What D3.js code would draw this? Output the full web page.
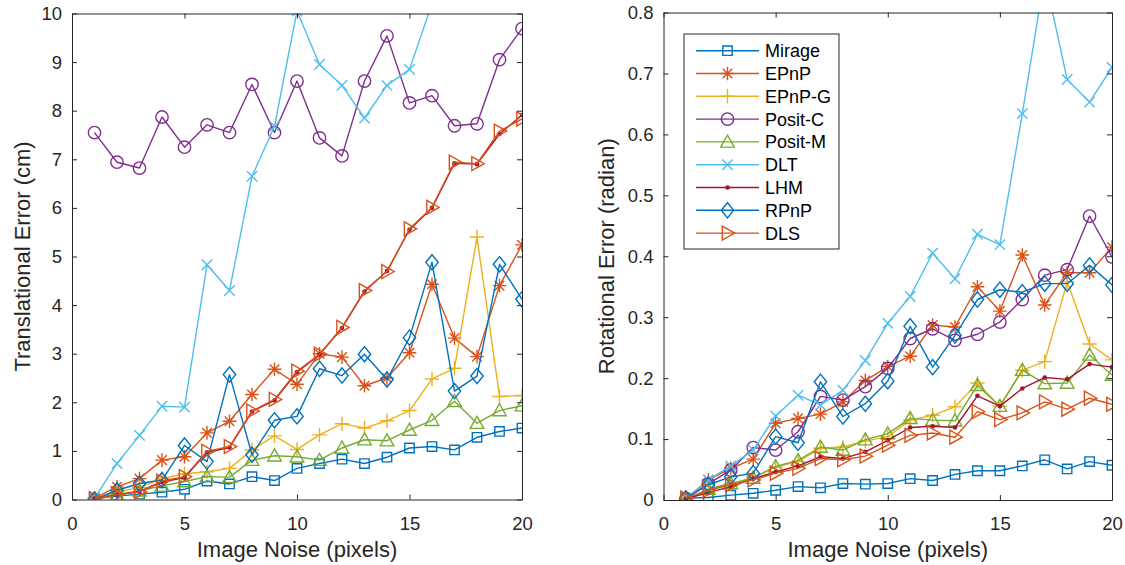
<!DOCTYPE html>
<html>
<head>
<meta charset="utf-8">
<script src="https://cdn.jsdelivr.net/npm/d3@7"></script>
<style>
  html, body { margin: 0; padding: 0; background: #fff; }
  svg { display: block; font-family: "Liberation Sans", Arial, Helvetica, sans-serif; }
</style>
</head>
<body>
<svg id="chart" width="1125" height="565"></svg>
<script>
// ---------------- DATA ----------------
const noise = [1,2,3,4,5,6,7,8,9,10,11,12,13,14,15,16,17,18,19,20];
const methods = ["Mirage","EPnP","EPnP-G","Posit-C","Posit-M","DLT","LHM","RPnP","DLS"];

// Translational error (cm)
const mirageT = [0.02,0.07,0.11,0.15,0.21,0.38,0.32,0.47,0.39,0.64,0.74,0.83,0.74,0.87,1.06,1.09,1.02,1.28,1.40,1.47];
const epnpT   = [0.03,0.26,0.43,0.81,0.88,1.37,1.61,2.16,2.68,2.37,3.00,2.93,2.34,2.50,3.02,4.43,3.32,2.94,4.40,5.24];
const epnpgT  = [0.02,0.15,0.25,0.43,0.53,0.57,0.64,1.02,1.31,1.03,1.33,1.56,1.47,1.62,1.83,2.48,2.70,5.40,2.12,2.14];
const positCT = [7.55,6.94,6.82,7.87,7.25,7.71,7.55,8.54,7.55,8.61,7.44,7.07,8.61,9.54,8.16,8.31,7.69,7.73,9.05,9.69];
const positMT = [0.00,0.10,0.18,0.28,0.37,0.47,0.46,0.81,0.90,0.88,0.81,1.06,1.23,1.21,1.43,1.63,2.02,1.57,1.83,1.93];
const dltT    = [0.03,0.74,1.32,1.92,1.90,4.83,4.30,6.65,7.68,10.05,8.95,8.52,7.85,8.52,8.85,10.2,11.5,12.0,11.8,12.5];
const lhmT    = [0.02,0.10,0.16,0.36,0.45,0.97,1.07,1.81,2.04,2.62,2.98,3.53,4.28,4.70,5.55,6.00,6.92,6.90,7.52,7.91];
const rpnpT   = [0.00,0.19,0.33,0.40,1.11,0.78,2.57,0.92,1.63,1.71,2.69,2.55,2.99,2.47,3.33,4.88,2.23,2.54,4.84,4.12];
const dlsT    = [0.02,0.10,0.16,0.38,0.47,0.99,1.09,1.82,2.06,2.64,2.99,3.54,4.30,4.69,5.57,6.01,6.94,6.91,7.58,7.83];

// Rotational error (radian)
const mirageR = [0.003,0.004,0.008,0.011,0.016,0.022,0.020,0.027,0.026,0.027,0.035,0.032,0.042,0.048,0.048,0.056,0.066,0.051,0.063,0.057];
const epnpR   = [0.002,0.033,0.052,0.067,0.126,0.134,0.141,0.161,0.196,0.219,0.236,0.287,0.284,0.350,0.310,0.402,0.320,0.373,0.373,0.415];
const epnpgR  = [0.001,0.017,0.026,0.037,0.054,0.063,0.085,0.087,0.097,0.104,0.131,0.139,0.153,0.192,0.154,0.213,0.227,0.358,0.256,0.230];
const positCR = [0.002,0.027,0.049,0.086,0.082,0.112,0.170,0.164,0.186,0.216,0.265,0.281,0.262,0.272,0.292,0.329,0.369,0.378,0.466,0.399];
const positMR = [0.000,0.018,0.027,0.036,0.055,0.065,0.087,0.082,0.099,0.109,0.134,0.131,0.130,0.188,0.154,0.213,0.191,0.192,0.238,0.205];
const dltR    = [0.002,0.033,0.056,0.082,0.138,0.172,0.156,0.180,0.229,0.290,0.334,0.405,0.363,0.436,0.419,0.634,0.860,0.690,0.653,0.710];
const lhmR    = [0.002,0.012,0.022,0.035,0.046,0.056,0.071,0.068,0.079,0.098,0.119,0.121,0.119,0.171,0.154,0.183,0.201,0.198,0.223,0.218];
const rpnpR   = [0.003,0.025,0.038,0.044,0.104,0.094,0.194,0.137,0.158,0.195,0.285,0.218,0.270,0.329,0.345,0.341,0.355,0.355,0.385,0.353];
const dlsR    = [0.003,0.016,0.025,0.033,0.044,0.052,0.068,0.066,0.072,0.090,0.106,0.110,0.103,0.145,0.132,0.143,0.161,0.149,0.167,0.157];

const xTicks = [0,5,10,15,20];
const transTicks = [0,1,2,3,4,5,6,7,8,9,10];
const rotTicks = [0,0.1,0.2,0.3,0.4,0.5,0.6,0.7,0.8];
const rotTickLabels = ["0","0.1","0.2","0.3","0.4","0.5","0.6","0.7","0.8"];

const transSeries = [mirageT, epnpT, epnpgT, positCT, positMT, dltT, lhmT, rpnpT, dlsT];
const rotSeries   = [mirageR, epnpR, epnpgR, positCR, positMR, dltR, lhmR, rpnpR, dlsR];

// ---------------- STYLE ----------------
const colors = ["#0072BD","#D95319","#EDB120","#7E2F8E","#77AC30","#4DBEEE","#A2142F","#0072BD","#D95319"];
const markers = ["square","asterisk","plus","circle","triangleUp","cross","point","diamond","triangleRight"];
const axisColor = "#262626";
const lw = 1.4;

const svg = d3.select("#chart");

function markerPath(type) {
  switch (type) {
    case "square": return "M-4.7,-4.7H4.7V4.7H-4.7Z";
    case "asterisk": return "M0,-6.8V6.8M-6.8,0H6.8M-4.8,-4.8L4.8,4.8M-4.8,4.8L4.8,-4.8";
    case "plus": return "M0,-7.2V7.2M-7.2,0H7.2";
    case "circle": return "M6.2,0A6.2,6.2 0 1,1 -6.2,0A6.2,6.2 0 1,1 6.2,0Z";
    case "triangleUp": return "M0,-6.8L6.8,5.2L-6.8,5.2Z";
    case "cross": return "M-5.2,-5.2L5.2,5.2M-5.2,5.2L5.2,-5.2";
    case "diamond": return "M0,-7.6L6.2,0L0,7.6L-6.2,0Z";
    case "triangleRight": return "M-5.2,-7L7.2,0L-5.2,7Z";
    default: return null;
  }
}

function drawMarker(g, type, color, x, y) {
  if (type === "point") {
    g.append("circle").attr("cx", x).attr("cy", y).attr("r", 2.3).attr("fill", color);
    return;
  }
  g.append("path").attr("d", markerPath(type))
    .attr("transform", `translate(${x},${y})`)
    .attr("fill", "none").attr("stroke", color).attr("stroke-width", lw);
}

function panel(cfg) {
  const x = d3.scaleLinear().domain([0, 20]).range([cfg.left, cfg.right]);
  const y = d3.scaleLinear().domain([0, cfg.ymax]).range([cfg.bottom, cfg.top]);
  const id = "clip" + cfg.name;
  svg.append("clipPath").attr("id", id).append("rect")
    .attr("x", cfg.left).attr("y", cfg.top)
    .attr("width", cfg.right - cfg.left).attr("height", cfg.bottom - cfg.top);

  const plot = svg.append("g").attr("clip-path", `url(#${id})`);
  const line = d3.line().x((d, i) => x(noise[i])).y(d => y(d));
  cfg.series.forEach((vals, k) => {
    const g = plot.append("g");
    g.append("path").datum(vals).attr("d", line)
      .attr("fill", "none").attr("stroke", colors[k]).attr("stroke-width", lw)
      .attr("stroke-linejoin", "round");
    vals.forEach((v, i) => drawMarker(g, markers[k], colors[k], x(noise[i]), y(v)));
  });

  const fmt = cfg.tickFormat;
  const style = sel => {
    sel.selectAll(".domain").attr("stroke", axisColor).attr("stroke-width", 1);
    sel.selectAll(".tick line").attr("stroke", axisColor).attr("stroke-width", 1);
    sel.selectAll("text").attr("fill", axisColor).attr("font-size", 18.5)
      .attr("font-family", '"Liberation Sans", Arial, sans-serif');
  };
  svg.append("g").attr("transform", `translate(0,${cfg.bottom})`)
    .call(d3.axisBottom(x).tickValues(xTicks).tickSizeInner(-5).tickSizeOuter(0).tickPadding(17))
    .call(style);
  svg.append("g").attr("transform", `translate(0,${cfg.top})`)
    .call(d3.axisTop(x).tickValues(xTicks).tickSizeInner(-5).tickSizeOuter(0).tickFormat(""))
    .call(style);
  svg.append("g").attr("transform", `translate(${cfg.left},0)`)
    .call(d3.axisLeft(y).tickValues(cfg.ticks).tickFormat(fmt).tickSizeInner(-5).tickSizeOuter(0).tickPadding(10))
    .call(style);
  svg.append("g").attr("transform", `translate(${cfg.right},0)`)
    .call(d3.axisRight(y).tickValues(cfg.ticks).tickSizeInner(-5).tickSizeOuter(0).tickFormat(""))
    .call(style);

  svg.append("text").attr("x", (cfg.left + cfg.right) / 2).attr("y", 557)
    .attr("text-anchor", "middle").attr("font-size", 22).attr("fill", axisColor)
    .text("Image Noise (pixels)");
  svg.append("text")
    .attr("transform", `translate(${cfg.ylabelX},${(cfg.top + cfg.bottom) / 2}) rotate(-90)`)
    .attr("text-anchor", "middle").attr("font-size", 22).attr("fill", axisColor)
    .text(cfg.ylabel);
}

panel({
  name: "T", left: 72, right: 522, top: 13.5, bottom: 499.5, ymax: 10,
  ticks: transTicks, tickFormat: d => String(d), series: transSeries,
  ylabel: "Translational Error (cm)", ylabelX: 30
});
panel({
  name: "R", left: 663.5, right: 1112, top: 12.5, bottom: 500, ymax: 0.8,
  ticks: rotTicks, tickFormat: (d, i) => rotTickLabels[i], series: rotSeries,
  ylabel: "Rotational Error (radian)", ylabelX: 614
});

// legend
const lg = svg.append("g");
lg.append("rect").attr("x", 684).attr("y", 34).attr("width", 155).attr("height", 215)
  .attr("fill", "#fff").attr("stroke", axisColor).attr("stroke-width", 1);
methods.forEach((m, k) => {
  const yy = 50.7 + k * 22.8;
  lg.append("line").attr("x1", 696).attr("x2", 759).attr("y1", yy).attr("y2", yy)
    .attr("stroke", colors[k]).attr("stroke-width", lw);
  drawMarker(lg, markers[k], colors[k], 727.5, yy);
  lg.append("text").attr("x", 765).attr("y", yy).attr("dy", "0.36em")
    .attr("font-size", 18).attr("fill", "#000").text(m);
});
</script>
</body>
</html>
